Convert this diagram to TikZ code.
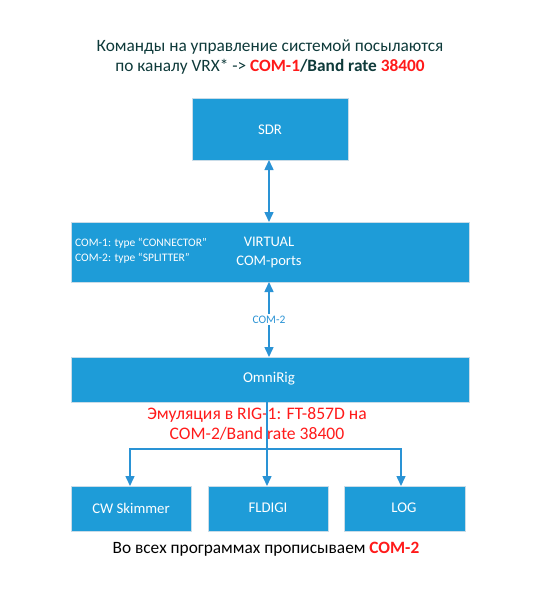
\documentclass[tikz,border=0pt]{standalone}
\usepackage{fontspec}
\setmainfont{Carlito}
\usetikzlibrary{arrows.meta}
\definecolor{boxblue}{HTML}{1E9CD8}
\definecolor{lineblue}{HTML}{2A93D5}
\definecolor{titlecol}{HTML}{0E3A3A}
\definecolor{redtxt}{HTML}{FF1A1A}
\definecolor{edgecol}{HTML}{C9DCE8}
\tikzset{
  bluebox/.style={fill=boxblue, draw=edgecol, line width=0.8pt, inner sep=0pt},
  boxtext/.style={text=white, font=\fontsize{14.8}{17}\selectfont, align=center, inner sep=0pt},
  smalltext/.style={text=white, font=\fontsize{11.5}{14.7}\selectfont, align=left, inner sep=0pt, anchor=west},
  conn/.style={draw=lineblue, line width=1.5pt, -{Triangle[length=10pt,width=9pt]}},
  conn2/.style={draw=lineblue, line width=1.5pt, {Triangle[length=10pt,width=9pt]}-{Triangle[length=10pt,width=9pt]}},
  bigtext/.style={font=\fontsize{17.3}{20}\selectfont, align=center, inner sep=0pt}
}
\begin{document}
\begin{tikzpicture}[x=1pt,y=-1pt]
\useasboundingbox (0,0) rectangle (556,615);
% title
\node[bigtext, text=titlecol] (title) at (270,57) {Команды на управление системой посылаются\\по каналу VRX* -> \textcolor{redtxt}{\textbf{COM-1}}\textbf{/Band rate }\textcolor{redtxt}{\textbf{38400}}};
% boxes
\path[bluebox] (192,98) rectangle (348,160);
\node[boxtext] (sdr) at (270,130) {SDR};
\coordinate (sdrb) at (269,160);

\path[bluebox] (71,222) rectangle (469,282);
\coordinate (vt) at (269,222);
\coordinate (vb) at (269,282);
\node[boxtext, font=\fontsize{14.6}{19}\selectfont] (virt) at (269,252) {VIRTUAL\\COM-ports};
\node[smalltext] (types) at (75,251) {COM-1: type “CONNECTOR”\\COM-2: type “SPLITTER”};

\path[bluebox] (71,357) rectangle (469,402);
\coordinate (ot) at (269,357);
\coordinate (ob) at (267,402);
\node[boxtext, font=\fontsize{15}{17}\selectfont] (omni) at (269,379) {OmniRig};

\path[bluebox] (71,486) rectangle (191,531);
\node[boxtext] (cw) at (131,508) {CW Skimmer};
\path[bluebox] (208,486) rectangle (328,531);
\node[boxtext] (fl) at (268,508) {FLDIGI};
\path[bluebox] (344,486) rectangle (465,531);
\node[boxtext] (log) at (404,508) {LOG};

\coordinate (cwt) at (130,486);
\coordinate (flt) at (267,486);
\coordinate (logt) at (401,486);
\coordinate (branch) at (267,449);
\coordinate (bl) at (130,449);
\coordinate (br) at (401,449);

% connectors
\draw[conn2] (sdrb) -- (vt);
\draw[conn2] (vb) -- (ot) node[midway, fill=white, inner sep=1.5pt, text=lineblue, font=\fontsize{11.5}{13}\selectfont] (com2) {COM-2};

% red text (behind line)
\node[bigtext, text=redtxt, font=\fontsize{17.6}{20.5}\selectfont] (emul) at (257,424) {Эмуляция в RIG-1: FT-857D на\\COM-2/Band rate 38400};

\draw[conn] (ob) -- (flt);
\draw[conn] (branch) -- (bl) -- (cwt);
\draw[conn] (branch) -- (br) -- (logt);

% bottom text
\node[bigtext, text=black] (bottom) at (266,549) {Во всех программах прописываем \textcolor{redtxt}{\textbf{COM-2}}};
\end{tikzpicture}
\end{document}
